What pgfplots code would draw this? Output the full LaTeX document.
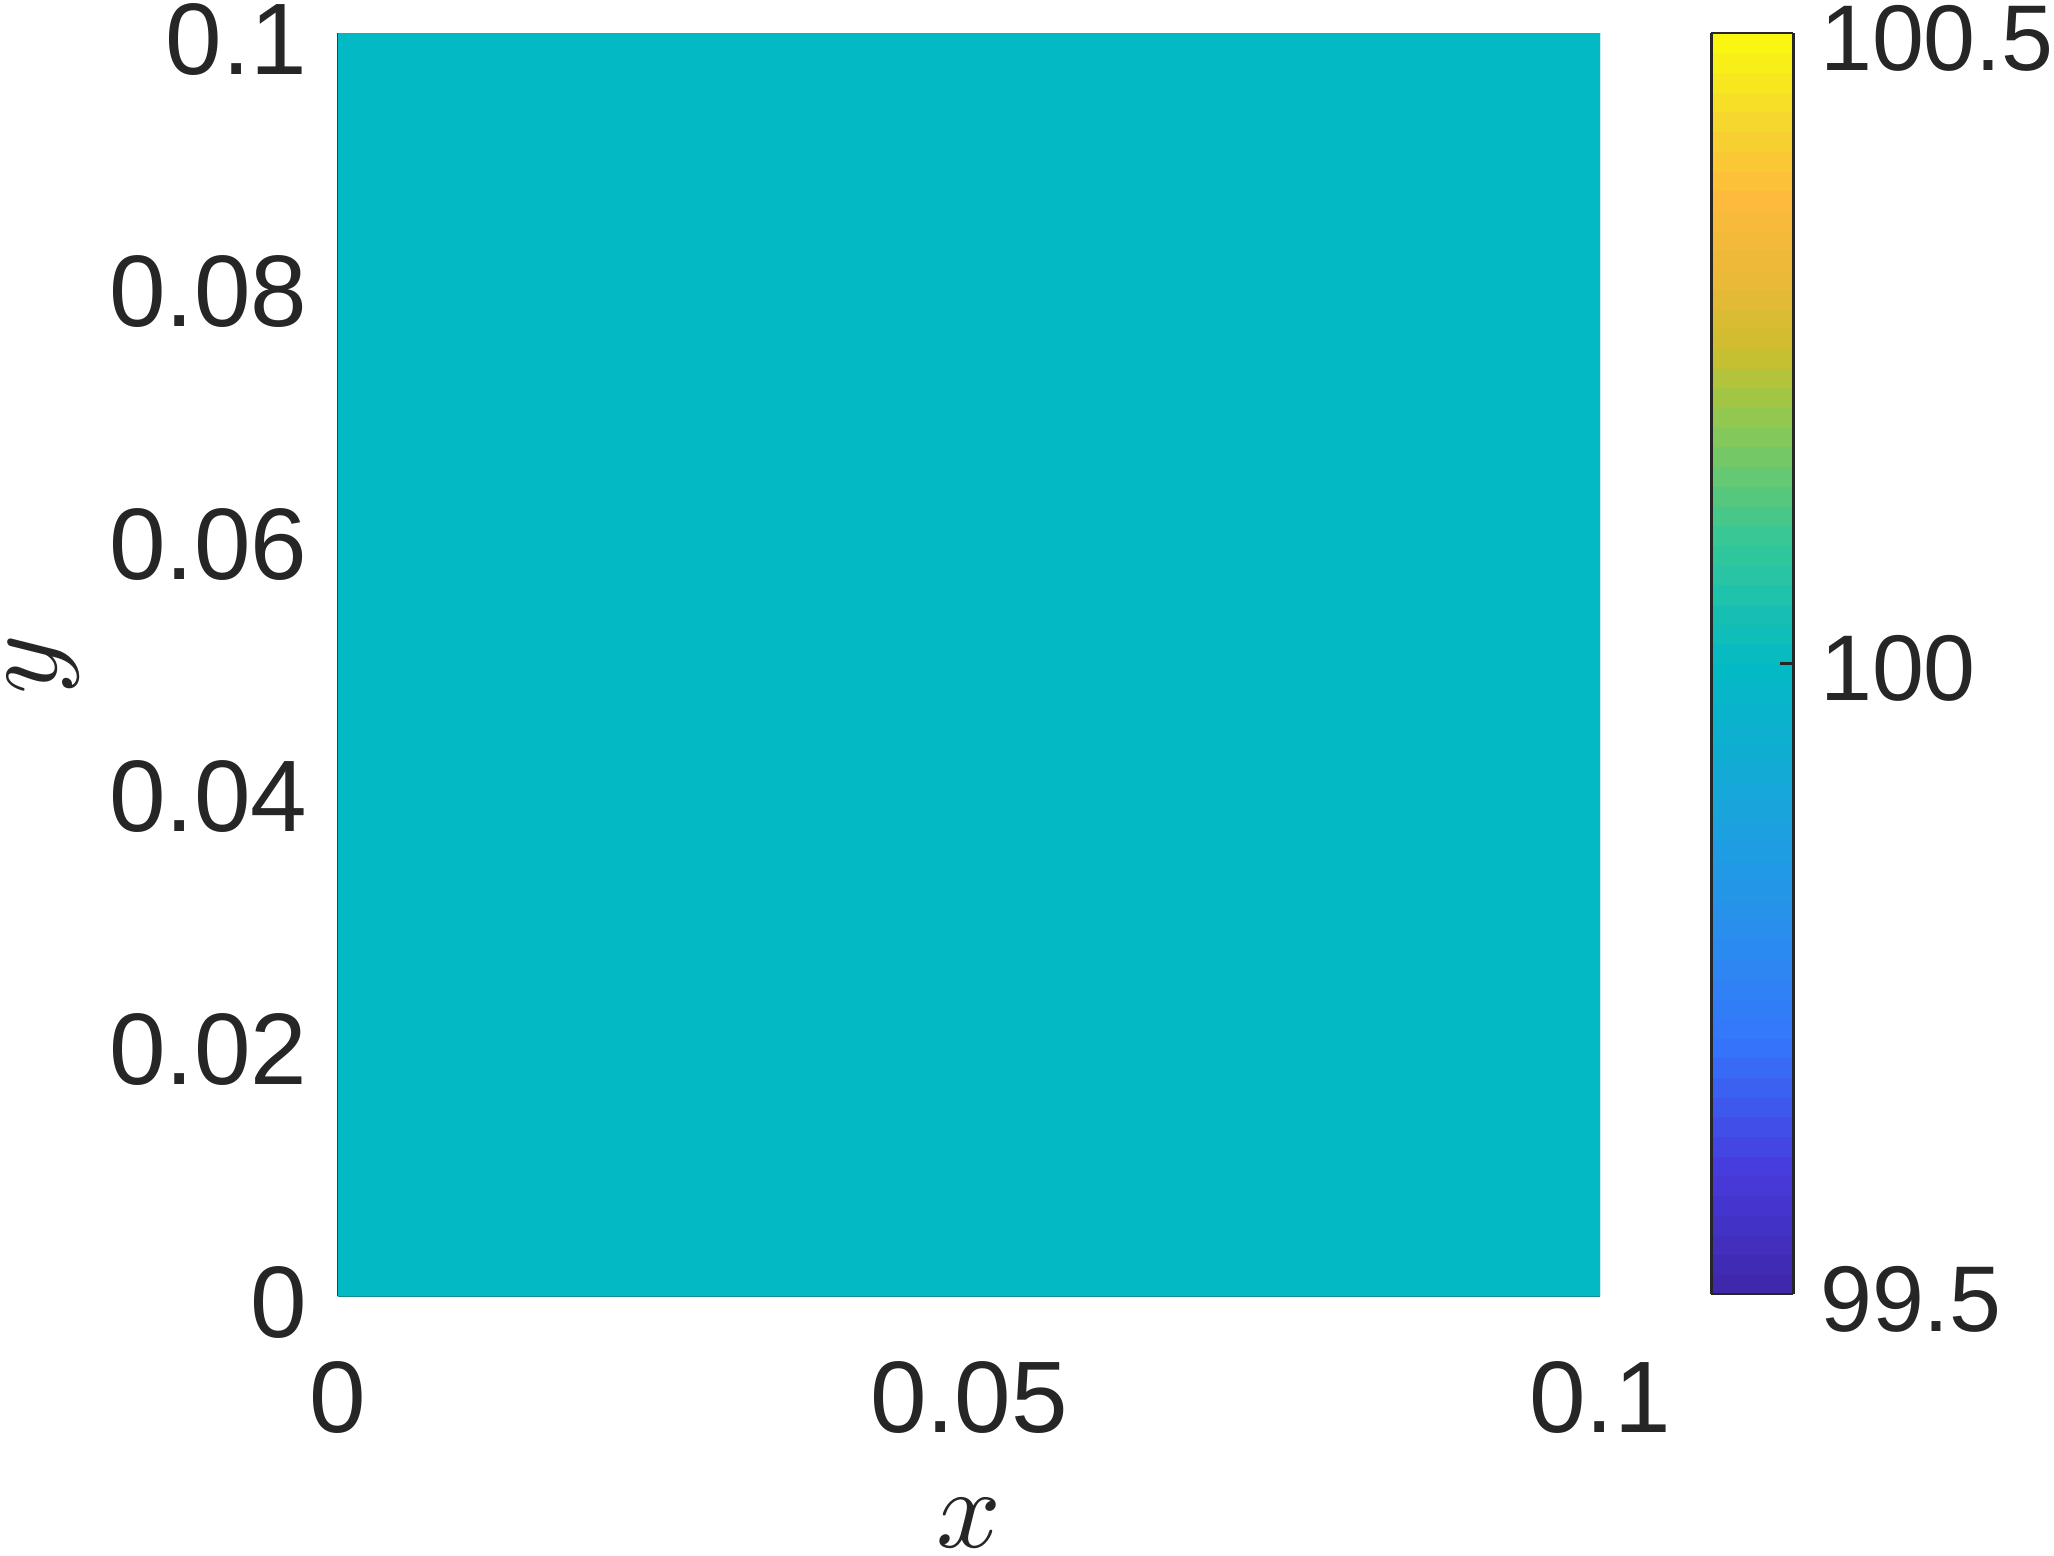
\documentclass[border=0pt]{standalone}
\usepackage{fontspec}
\setmainfont{Liberation Sans}
\DeclareFontShape{OML}{cmm}{m}{it}{<->cmmi10}{}
\usepackage{pgfplots}
\pgfplotsset{compat=1.18}
\definecolor{txt}{RGB}{38,38,38}
\begin{document}
\begin{tikzpicture}
\begin{axis}[
  scale only axis, width=378.6pt, height=378.9pt,
  xmin=0, xmax=0.1, ymin=0, ymax=0.1,
  axis x line*=bottom, axis y line*=left,
  axis line style={-, draw=txt, line width=0.4pt},
  major tick length=0pt,
  xtick={0,0.05,0.1}, ytick={0,0.02,0.04,0.06,0.08,0.1},
  /pgf/number format/assume math mode=true,
  /pgf/number format/fixed, /pgf/number format/precision=2,
  tick label style={font=\fontsize{30.5}{36}\selectfont, text=txt, inner sep=0pt},
  xticklabel style={anchor=north, yshift=-19.5pt},
  yticklabel style={anchor=east, xshift=-9pt, yshift=-1.8pt},
  xlabel={$x$}, ylabel={$y$},
  label style={font=\fontsize{34}{40}\selectfont, text=txt},
  xlabel style={at={(axis description cs:0.5,-0.180)}, anchor=center},
  ylabel style={at={(axis description cs:-0.234,0.5)}, anchor=center},
  colormap={parula}{
    rgb255(0pt)=(62,38,168)
    rgb255(10pt)=(71,60,222)
    rgb255(20pt)=(52,118,252)
    rgb255(30pt)=(40,145,235)
    rgb255(40pt)=(22,168,217)
    rgb255(50pt)=(3,186,196)
    rgb255(60pt)=(55,200,150)
    rgb255(70pt)=(150,200,75)
    rgb255(75pt)=(205,190,45)
    rgb255(80pt)=(232,185,55)
    rgb255(87pt)=(254,186,60)
    rgb255(93pt)=(245,215,45)
    rgb255(100pt)=(249,251,14)
  },
  point meta min=99.5, point meta max=100.5,
  colorbar sampled,
  colorbar style={
    scale only axis,
    samples=65,
    axis lines=box,
    at={(parent axis.north east)}, anchor=north west, xshift=24.9pt,
    width=24.6pt, height=378.3pt,
    xtick=\empty,
    ytick={99.5,100,100.5},
    ytick pos=right,
    yticklabel pos=right,
    tick align=inside, major tick length=4pt,
    tick style={draw=txt, line width=0.8pt},
    axis line style={-, draw=txt, line width=0.8pt},
    /pgf/number format/assume math mode=true,
    /pgf/number format/fixed, /pgf/number format/precision=1,
    yticklabel style={anchor=west, xshift=7.8pt, yshift=-1.5pt, inner sep=0pt,
      font=\fontsize{28}{34}\selectfont, text=txt},
  },
]
\addplot[patch, shader=faceted, faceted color=mapped color, point meta=explicit]
  table[meta=c] {
x y c
0 0 100
0.1 0 100
0.1 0.1 100
0 0 100
0.1 0.1 100
0 0.1 100
};
\end{axis}
\pgfresetboundingbox
\useasboundingbox (-101.4pt,-77.7pt) rectangle (514.8pt,388.8pt);
\end{tikzpicture}
\end{document}
